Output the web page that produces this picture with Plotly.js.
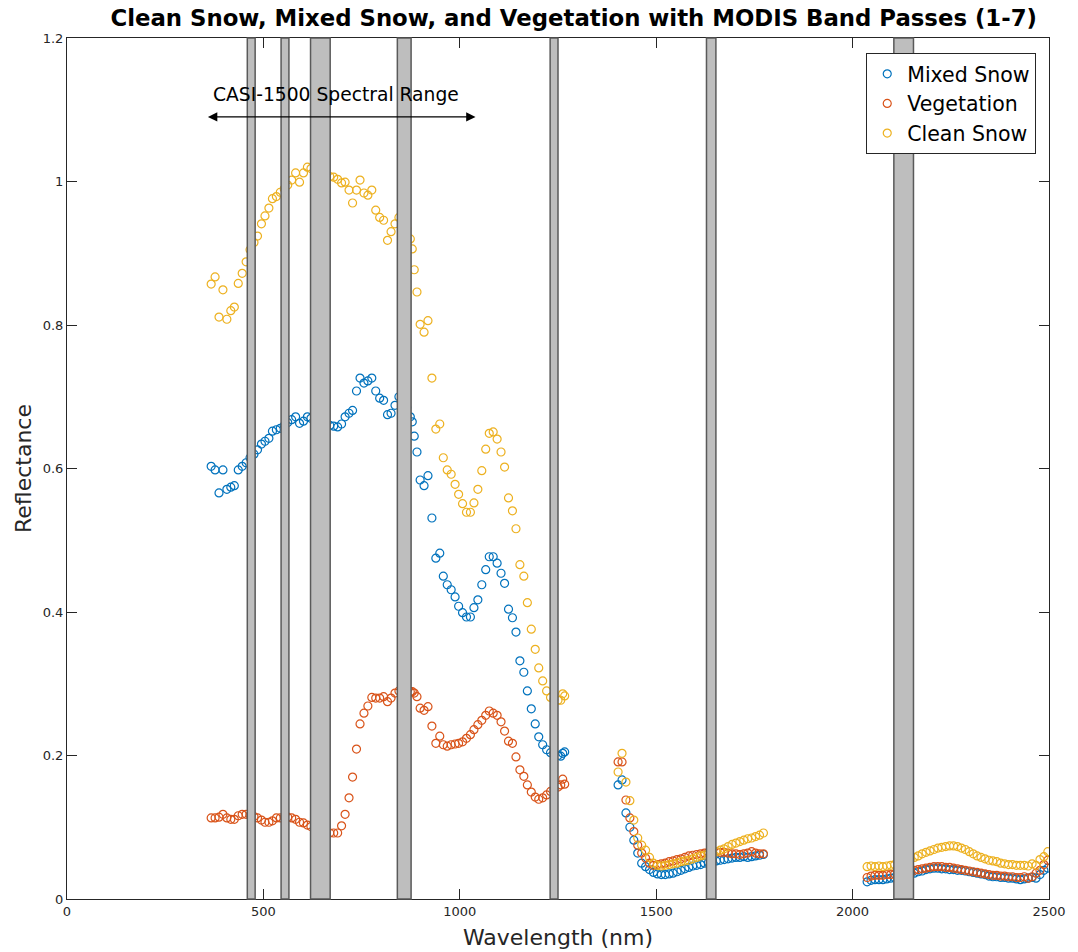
<!DOCTYPE html>
<html>
<head>
<meta charset="utf-8">
<script src="https://cdn.plot.ly/plotly-3.0.1.min.js"></script>
<style>
  html, body { margin: 0; padding: 0; background: #ffffff; }
  #chart { width: 1078px; height: 952px; }
</style>
</head>
<body>
<div id="chart"></div>
<script>
// Wavelength samples (nm), split into the three measured windows
const wlVisNir = [367,377,387,397,407,417,426,436,446,456,
  466,476,485,495,504,514,523,533,543,553,
  562,572,582,592,602,612,621,631,641,650,
  660,669,679,689,699,708,718,727,737,746,
  756,766,776,786,796,806,816,825,835,845,
  855,865,874,879,884,891,899,909,919,929,
  939,949,958,968,978,988,997,1007,1017,1027,
  1036,1046,1056,1066,1075,1085,1095,1105,1114,1124,
  1134,1143,1153,1163,1172,1182,1192,1201,1211,1221,
  1231,1240,1250,1257,1262,1267];
const wlSwir1 = [1403,1413,1423,1433,1443,1453,1463,1473,1483,1493,
  1503,1513,1523,1533,1543,1553,1563,1573,1583,1593,
  1603,1613,1623,1633,1643,1653,1663,1673,1683,1693,
  1703,1713,1723,1733,1743,1753,1763,1773];
const wlSwir2 = [2037,2047,2057,2067,2077,2087,2097,2107,2117,2127,
  2137,2147,2157,2167,2177,2187,2197,2207,2217,2227,
  2237,2247,2257,2267,2277,2287,2297,2307,2317,2327,
  2337,2347,2357,2367,2377,2387,2397,2407,2417,2427,
  2437,2447,2457,2467,2477,2487,2497];

// Mixed snow reflectance
const mixedVisNir = [0.603,0.598,0.566,0.598,0.571,0.574,0.576,0.598,0.603,0.608,
  0.615,0.620,0.626,0.634,0.638,0.642,0.652,0.654,0.656,0.660,
  0.664,0.668,0.672,0.663,0.666,0.672,0.670,0.668,0.665,0.663,
  0.661,0.660,0.659,0.658,0.662,0.672,0.677,0.681,0.708,0.726,
  0.719,0.722,0.726,0.708,0.698,0.695,0.675,0.677,0.688,0.700,
  0.695,0.685,0.672,0.665,0.645,0.623,0.584,0.576,0.590,0.531,
  0.475,0.482,0.450,0.438,0.431,0.421,0.408,0.399,0.393,0.393,
  0.406,0.417,0.438,0.459,0.477,0.477,0.468,0.454,0.440,0.404,
  0.392,0.372,0.332,0.316,0.290,0.265,0.244,0.226,0.215,0.208,
  0.204,0.202,0.200,0.199,0.203,0.205];
const mixedSwir1 = [0.159,0.166,0.120,0.100,0.082,0.064,0.050,0.045,0.041,0.037,
  0.035,0.034,0.034,0.035,0.036,0.038,0.040,0.042,0.044,0.046,
  0.047,0.048,0.050,0.051,0.052,0.053,0.054,0.055,0.056,0.057,
  0.058,0.058,0.059,0.058,0.059,0.060,0.061,0.062];
const mixedSwir2 = [0.024,0.026,0.027,0.027,0.027,0.028,0.029,0.030,0.031,0.032,
  0.033,0.034,0.036,0.038,0.039,0.041,0.042,0.043,0.043,0.042,
  0.042,0.041,0.041,0.040,0.040,0.039,0.038,0.037,0.036,0.035,
  0.034,0.032,0.031,0.031,0.030,0.030,0.029,0.029,0.028,0.027,
  0.028,0.029,0.030,0.029,0.034,0.040,0.043];

// Vegetation reflectance
const vegVisNir = [0.113,0.113,0.114,0.118,0.113,0.111,0.111,0.116,0.118,0.118,
  0.117,0.115,0.113,0.110,0.107,0.107,0.109,0.113,0.113,0.114,
  0.114,0.113,0.111,0.107,0.106,0.103,0.101,0.099,0.097,0.095,
  0.093,0.092,0.092,0.092,0.102,0.118,0.141,0.170,0.209,0.244,
  0.259,0.269,0.281,0.280,0.280,0.282,0.275,0.280,0.287,0.290,
  0.291,0.290,0.289,0.289,0.287,0.282,0.266,0.263,0.268,0.241,
  0.217,0.227,0.215,0.213,0.215,0.216,0.217,0.219,0.224,0.229,
  0.236,0.243,0.249,0.256,0.262,0.259,0.256,0.247,0.234,0.220,
  0.217,0.198,0.180,0.171,0.159,0.149,0.142,0.139,0.141,0.145,
  0.150,0.153,0.156,0.159,0.167,0.160];
const vegSwir1 = [0.191,0.191,0.138,0.113,0.094,0.075,0.064,0.057,0.050,0.047,
  0.048,0.049,0.050,0.052,0.053,0.055,0.056,0.058,0.060,0.061,
  0.062,0.063,0.064,0.065,0.066,0.066,0.065,0.065,0.064,0.063,
  0.063,0.062,0.063,0.064,0.066,0.064,0.063,0.063];
const vegSwir2 = [0.030,0.032,0.033,0.033,0.033,0.034,0.034,0.035,0.036,0.037,
  0.038,0.039,0.040,0.041,0.042,0.043,0.044,0.045,0.045,0.045,
  0.044,0.044,0.043,0.042,0.041,0.040,0.039,0.038,0.037,0.036,
  0.035,0.034,0.033,0.033,0.032,0.032,0.031,0.031,0.030,0.030,
  0.031,0.029,0.031,0.036,0.040,0.048,0.054];

// Clean snow reflectance
const cleanVisNir = [0.857,0.867,0.811,0.849,0.808,0.820,0.825,0.858,0.872,0.888,
  0.905,0.915,0.924,0.941,0.952,0.963,0.976,0.979,0.985,0.990,
  0.995,1.002,1.012,0.999,1.012,1.020,1.018,1.015,1.012,1.010,
  1.008,1.007,1.006,1.003,0.998,0.999,0.988,0.970,0.988,1.002,
  0.984,0.981,0.988,0.960,0.950,0.946,0.918,0.930,0.941,0.950,
  0.945,0.935,0.920,0.906,0.877,0.846,0.801,0.790,0.806,0.726,
  0.655,0.662,0.615,0.598,0.592,0.578,0.564,0.551,0.539,0.539,
  0.552,0.571,0.597,0.627,0.649,0.651,0.641,0.623,0.602,0.559,
  0.541,0.516,0.466,0.450,0.413,0.376,0.348,0.322,0.304,0.290,
  0.281,0.278,0.277,0.277,0.286,0.283];
const cleanSwir1 = [0.177,0.203,0.163,0.137,0.110,0.085,0.075,0.068,0.058,0.050,
  0.047,0.046,0.047,0.048,0.049,0.050,0.052,0.053,0.054,0.056,
  0.058,0.060,0.061,0.063,0.064,0.066,0.068,0.070,0.073,0.076,
  0.078,0.080,0.082,0.084,0.085,0.087,0.089,0.092];
const cleanSwir2 = [0.045,0.046,0.045,0.046,0.045,0.046,0.047,0.048,0.050,0.052,
  0.054,0.056,0.058,0.060,0.063,0.065,0.067,0.069,0.071,0.072,
  0.073,0.074,0.074,0.073,0.071,0.069,0.066,0.063,0.060,0.058,
  0.056,0.054,0.053,0.052,0.050,0.049,0.048,0.048,0.047,0.047,
  0.047,0.046,0.049,0.047,0.055,0.059,0.066];

// MODIS band passes 1-7 (nm)
const bandNames = ['1','2','3','4','5','6','7'];
const bandLow  = [620, 841, 459, 545, 1230, 1628, 2105];
const bandHigh = [670, 876, 479, 565, 1250, 1652, 2155];

// CASI-1500 spectral range (nm) and where its label sits
const casiRange = [355, 1040];
const casiLabelAt = 685;

const xTicks = [0, 500, 1000, 1500, 2000, 2500];
const yTicks = [0, 0.2, 0.4, 0.6, 0.8, 1, 1.2];

const wavelength = wlVisNir.concat(wlSwir1, wlSwir2);
const series = [
  { name: 'Mixed Snow', color: '#0072BD', y: mixedVisNir.concat(mixedSwir1, mixedSwir2) },
  { name: 'Vegetation', color: '#D95319', y: vegVisNir.concat(vegSwir1, vegSwir2) },
  { name: 'Clean Snow', color: '#EDB120', y: cleanVisNir.concat(cleanSwir1, cleanSwir2) }
];

const axisColor = '#262626';
const fontFamily = 'DejaVu Sans, sans-serif';

const traces = series.map(s => ({
  type: 'scatter',
  mode: 'markers',
  name: s.name,
  x: wavelength,
  y: s.y,
  marker: { symbol: 'circle-open', size: 8, color: s.color, line: { width: 1.2, color: s.color } },
  hoverinfo: 'x+y+name'
}));

const shapes = bandLow.map((lo, i) => ({
  type: 'rect', xref: 'x', yref: 'paper', layer: 'above',
  x0: lo, x1: bandHigh[i], y0: 0, y1: 1,
  fillcolor: '#bebebe',
  line: { color: '#5a5a5a', width: 1.5 },
  name: 'MODIS band ' + bandNames[i]
}));

const annotations = [
  {
    xref: 'x', yref: 'y', axref: 'x', ayref: 'y',
    x: casiRange[1], y: 1.09, ax: casiRange[0], ay: 1.09,
    text: '', showarrow: true, arrowside: 'end+start',
    arrowhead: 2, arrowsize: 1.7, arrowwidth: 1.1, arrowcolor: '#000000',
    standoff: 0, startstandoff: 0
  },
  {
    xref: 'x', yref: 'y', x: casiLabelAt, y: 1.121,
    text: 'CASI-1500 Spectral Range', showarrow: false,
    xanchor: 'center', yanchor: 'middle',
    font: { family: fontFamily, size: 18.7, color: '#000000' }
  }
];

const layout = {
  width: 1078, height: 952,
  margin: { l: 67, r: 29, t: 38, b: 53, pad: 0 },
  paper_bgcolor: '#ffffff', plot_bgcolor: '#ffffff',
  showlegend: true,
  title: {
    text: '<b>Clean Snow, Mixed Snow, and Vegetation with MODIS Band Passes (1-7)</b>',
    font: { family: fontFamily, size: 22.8, color: '#000000' },
    xref: 'paper', x: 0.516, xanchor: 'center',
    yref: 'container', y: 0.981, yanchor: 'middle'
  },
  xaxis: {
    range: [0, 2500], tickvals: xTicks, ticktext: xTicks.map(String),
    ticks: 'inside', ticklen: 10, tickwidth: 1, tickcolor: axisColor,
    showline: true, linecolor: axisColor, linewidth: 1, mirror: 'ticks',
    showgrid: false, zeroline: false,
    tickfont: { family: fontFamily, size: 13, color: axisColor },
    title: { text: 'Wavelength (nm)', font: { family: fontFamily, size: 22, color: axisColor }, standoff: 12 }
  },
  yaxis: {
    range: [0, 1.2], tickvals: yTicks, ticktext: yTicks.map(String),
    ticks: 'inside', ticklen: 10, tickwidth: 1, tickcolor: axisColor,
    showline: true, linecolor: axisColor, linewidth: 1, mirror: 'ticks',
    showgrid: false, zeroline: false,
    tickfont: { family: fontFamily, size: 13, color: axisColor },
    title: { text: 'Reflectance', font: { family: fontFamily, size: 22, color: axisColor }, standoff: 5 }
  },
  legend: {
    x: 0.987, y: 0.9826, xanchor: 'right', yanchor: 'top',
    bgcolor: '#ffffff', bordercolor: axisColor, borderwidth: 1,
    font: { family: fontFamily, size: 20.5, color: '#000000' },
    tracegroupgap: 0
  },
  shapes: shapes,
  annotations: annotations
};

Plotly.newPlot('chart', traces, layout, { displayModeBar: false, staticPlot: true });
</script>
</body>
</html>
